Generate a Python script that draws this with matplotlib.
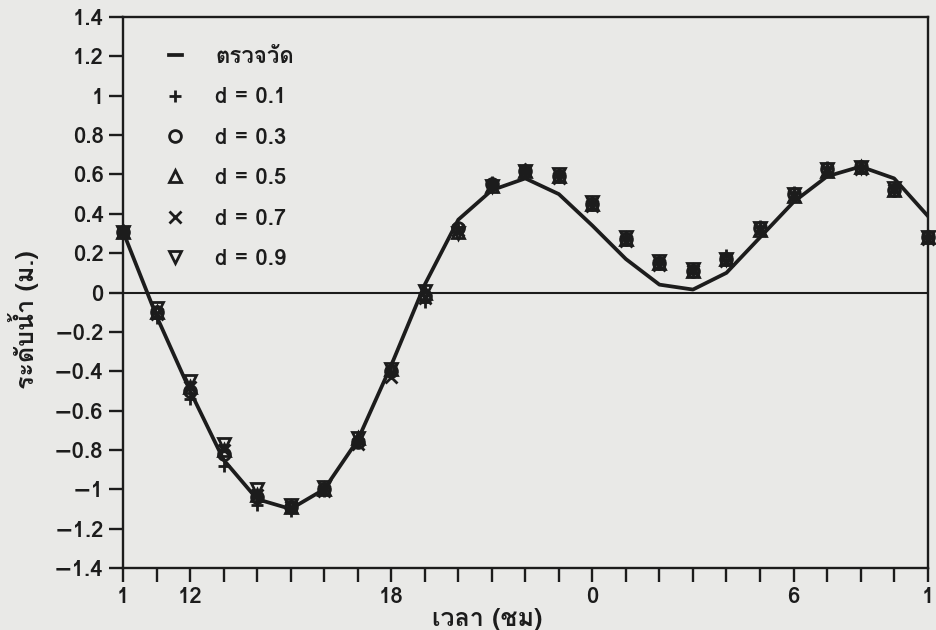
import matplotlib
matplotlib.use('Agg')
import matplotlib.pyplot as plt
from matplotlib import font_manager
from matplotlib.ft2font import FT2Font
from matplotlib.lines import Line2D

# ---------------- data ----------------
hours = list(range(10, 35))
measured = [0.31, -0.12, -0.50, -0.85, -1.05, -1.10, -1.00, -0.75, -0.37, 0.04,
            0.37, 0.52, 0.58, 0.50, 0.34, 0.17, 0.04, 0.015, 0.10, 0.28,
            0.46, 0.59, 0.64, 0.58, 0.39]
d01 = [0.32, -0.13, -0.54, -0.88, -1.08, -1.11, -1.01, -0.76, -0.41, -0.05,
       0.33, 0.56, 0.63, 0.60, 0.46, 0.28, 0.16, 0.12, 0.19, 0.34,
       0.51, 0.64, 0.64, 0.53, 0.28]
d03 = [0.31, -0.10, -0.50, -0.82, -1.04, -1.09, -1.00, -0.76, -0.40, -0.02,
       0.33, 0.55, 0.62, 0.59, 0.45, 0.27, 0.15, 0.11, 0.17, 0.33,
       0.50, 0.63, 0.64, 0.52, 0.28]
d05 = [0.31, -0.10, -0.48, -0.80, -1.03, -1.09, -1.00, -0.74, -0.39, 0.00,
       0.31, 0.54, 0.62, 0.59, 0.45, 0.27, 0.15, 0.11, 0.17, 0.32,
       0.49, 0.62, 0.64, 0.52, 0.28]
d07 = [0.31, -0.11, -0.48, -0.80, -1.03, -1.09, -1.01, -0.77, -0.43, -0.03,
       0.32, 0.54, 0.62, 0.58, 0.44, 0.26, 0.14, 0.11, 0.16, 0.32,
       0.49, 0.62, 0.63, 0.52, 0.27]
d09 = [0.31, -0.08, -0.45, -0.77, -1.00, -1.08, -0.99, -0.74, -0.39, 0.01,
       0.30, 0.54, 0.62, 0.60, 0.46, 0.28, 0.16, 0.12, 0.17, 0.33,
       0.50, 0.63, 0.64, 0.53, 0.28]
series_labels = ['d = 0.1', 'd = 0.3', 'd = 0.5', 'd = 0.7', 'd = 0.9']
measured_label = 'ตรวจวัด'
xtick_pos = [10, 12, 18, 24, 30, 34]
xtick_labels = ['1', '12', '18', '0', '6', '1']
ytick_vals = [1.4, 1.2, 1, 0.8, 0.6, 0.4, 0.2, 0, -0.2, -0.4, -0.6, -0.8, -1, -1.2, -1.4]
xlabel = 'เวลา (ชม)'
ylabel = 'ระดับน้ำ (ม.)'

# ---------------- fonts ----------------
def find_thai():
    for f in font_manager.fontManager.ttflist:
        try:
            cm = FT2Font(f.fname).get_charmap()
        except Exception:
            continue
        if 0x0E15 in cm and 0x0E27 in cm and 0x0E19 in cm:
            return f.name
    return None

thai = find_thai()
fams = ([thai] if thai else []) + ['DejaVu Sans']
plt.rcParams['font.family'] = fams

ink = '#1c1c1c'
paper = '#e9e9e7'

fig = plt.figure(figsize=(9.37, 6.30), dpi=100, facecolor=paper)
ax = fig.add_axes([0.1313, 0.0984, 0.8587, 0.8746])
ax.set_facecolor(paper)

ax.plot(hours, measured, color=ink, lw=2.7, zorder=3)
mk = [('+', d01, 'full'), ('o', d03, 'none'), ('^', d05, 'none'), ('x', d07, 'full'), ('v', d09, 'none')]
for (m, vals, fill), lab in zip(mk, series_labels):
    ax.plot(hours, vals, linestyle='none', marker=m, markersize=8.5, mew=2.0,
            color=ink, markerfacecolor='none' if fill == 'none' else ink,
            zorder=4, clip_on=False)

ax.axhline(0, color=ink, lw=1.5, zorder=2)
ax.set_xlim(10, 34)
ax.set_ylim(-1.4, 1.4)
ax.set_xticks(xtick_pos)
ax.set_xticklabels(xtick_labels)
ax.set_xticks(hours, minor=True)
ax.set_yticks(ytick_vals)
ax.set_yticklabels([('%g' % v).replace('-', '\u2212') for v in ytick_vals])
ax.tick_params(axis='both', which='both', direction='out', length=10, width=1.7,
               colors=ink, labelsize=16, pad=4)
for lab in ax.get_xticklabels() + ax.get_yticklabels():
    lab.set_fontweight('bold')
for s in ax.spines.values():
    s.set_color(ink)
    s.set_linewidth(1.7)

ax.set_xlabel(xlabel, fontsize=18, fontweight='bold', color=ink)
ax.xaxis.set_label_coords(0.453, -0.072)
ax.set_ylabel(ylabel, fontsize=18, fontweight='bold', color=ink)
ax.yaxis.set_label_coords(-0.104, 0.45)

handles = [Line2D([], [], color=ink, lw=2.7)]
for (m, vals, fill) in mk:
    handles.append(Line2D([], [], linestyle='none', marker=m, markersize=8.5, mew=2.0,
                          color=ink, markerfacecolor='none' if fill == 'none' else ink))
leg = ax.legend(handles, [measured_label] + series_labels, loc='upper left',
                bbox_to_anchor=(0.04, 0.97), frameon=False, fontsize=16,
                handlelength=0.6, handletextpad=1.5, labelspacing=0.92,
                borderaxespad=0.2)
for t in leg.get_texts():
    t.set_color(ink)
    t.set_fontweight('bold')

fig.savefig('out.png', dpi=100, facecolor=paper)
